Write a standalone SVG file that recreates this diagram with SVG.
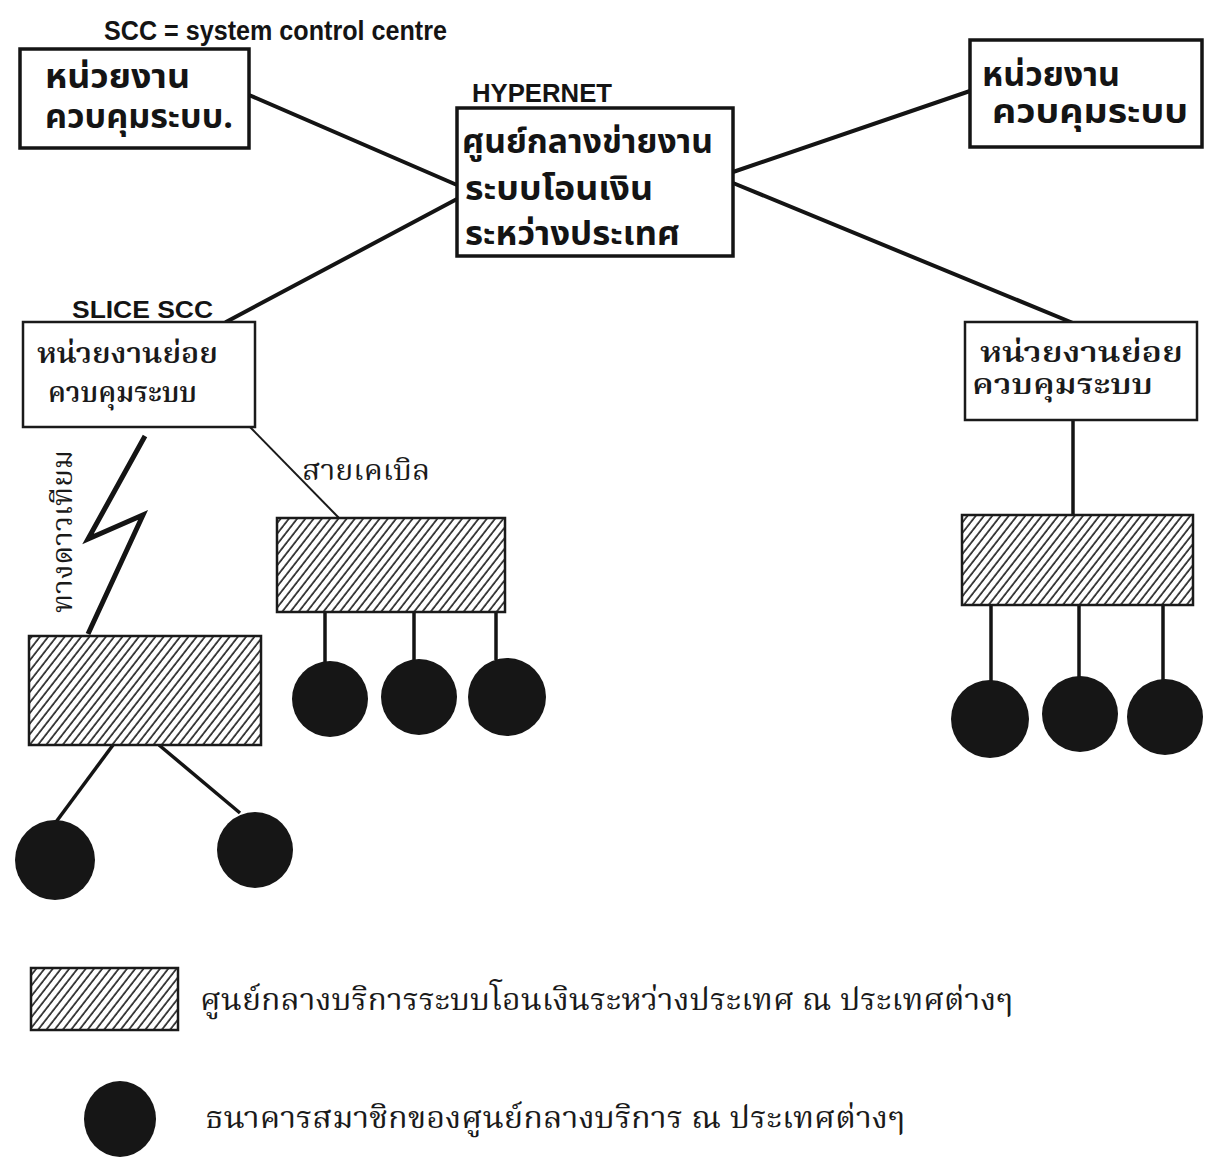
<svg xmlns="http://www.w3.org/2000/svg" width="1208" height="1157" viewBox="0 0 1208 1157">
  <style>
    .box { fill: #ffffff; stroke: #141414; stroke-width: 3.5; }
    .sub { fill: #ffffff; stroke: #1a1a1a; stroke-width: 2.5; }
    .hatch { fill: url(#diag); stroke: #1a1a1a; stroke-width: 2.5; }
    .bank { fill: #161616; }
    .link { stroke: #141414; stroke-width: 4; fill: none; stroke-linecap: round; }
    .drop { stroke: #141414; stroke-width: 3.5; fill: none; }
    .thin { stroke: #1a1a1a; stroke-width: 2; fill: none; }
    .bolt { stroke: #141414; stroke-width: 5; fill: none; stroke-linejoin: miter; }
    .en { font-family: "Liberation Sans", "DejaVu Sans", sans-serif; font-weight: bold; fill: #141414; }
    .th { font-family: "Noto Sans Thai", "Noto Sans", "DejaVu Sans", sans-serif; font-weight: bold; fill: #141414; font-size: 34px; }
    .ths { font-family: "Noto Serif Thai", "Noto Sans Thai", "DejaVu Serif", serif; fill: #1a1a1a; font-size: 28px; }
    .thb { font-weight: 600; }
    .leg { font-size: 30px; }
  </style>
  <defs>
    <pattern id="diag" patternUnits="userSpaceOnUse" width="6.5" height="10" patternTransform="rotate(38)">
      <rect width="6.5" height="10" fill="#ffffff"/>
      <line x1="1" y1="0" x2="1" y2="10" stroke="#1a1a1a" stroke-width="1.6"/>
    </pattern>
  </defs>

  <!-- connectors -->
  <g id="connectors">
    <line class="link" x1="249" y1="95" x2="457" y2="185"/>
    <line class="link" x1="457" y1="199" x2="226" y2="322"/>
    <line class="link" x1="733" y1="172" x2="970" y2="91"/>
    <line class="link" x1="733" y1="183" x2="1073" y2="323"/>
    <line class="drop" x1="1073" y1="420" x2="1073" y2="515"/>
    <line class="thin" x1="250" y1="427" x2="339" y2="518"/>
    <polyline class="bolt" points="145,436 88,539 143,515 88,634"/>
    <!-- drops from the service centres to member banks -->
    <line class="drop" x1="325" y1="612" x2="325" y2="662"/>
    <line class="drop" x1="414" y1="612" x2="414" y2="660"/>
    <line class="drop" x1="496" y1="612" x2="496" y2="660"/>
    <line class="drop" x1="991" y1="605" x2="991" y2="682"/>
    <line class="drop" x1="1079" y1="605" x2="1079" y2="677"/>
    <line class="drop" x1="1163" y1="605" x2="1163" y2="680"/>
    <line class="drop" x1="113" y1="745" x2="56" y2="822"/>
    <line class="drop" x1="159" y1="745" x2="240" y2="813"/>
  </g>

  <!-- header note -->
  <text class="en" x="104" y="40" font-size="27" textLength="343" lengthAdjust="spacingAndGlyphs">SCC = system control centre</text>

  <g id="scc-left">
    <rect class="box" x="20" y="49" width="229" height="99"/>
    <text class="th" x="45" y="88" textLength="145" lengthAdjust="spacingAndGlyphs">หน่วยงาน</text>
    <text class="th" x="45" y="128" textLength="188" lengthAdjust="spacingAndGlyphs">ควบคุมระบบ.</text>
  </g>

  <g id="hypernet">
    <text class="en" x="472" y="102" font-size="25" textLength="140" lengthAdjust="spacingAndGlyphs">HYPERNET</text>
    <rect class="box" x="457" y="108" width="276" height="148"/>
    <text class="th" x="462" y="153" textLength="251" lengthAdjust="spacingAndGlyphs">ศูนย์กลางข่ายงาน</text>
    <text class="th" x="465" y="200" textLength="188" lengthAdjust="spacingAndGlyphs">ระบบโอนเงิน</text>
    <text class="th" x="465" y="245" textLength="215" lengthAdjust="spacingAndGlyphs">ระหว่างประเทศ</text>
  </g>

  <g id="scc-right">
    <rect class="box" x="970" y="40" width="232" height="107"/>
    <text class="th" x="982" y="86" textLength="138" lengthAdjust="spacingAndGlyphs">หน่วยงาน</text>
    <text class="th" x="992" y="123" textLength="196" lengthAdjust="spacingAndGlyphs">ควบคุมระบบ</text>
  </g>

  <g id="slice-left">
    <text class="en" x="72" y="318" font-size="24" textLength="141" lengthAdjust="spacingAndGlyphs">SLICE SCC</text>
    <rect class="sub" x="23" y="322" width="232" height="105"/>
    <text class="ths thb" x="37" y="363" textLength="181" lengthAdjust="spacingAndGlyphs">หน่วยงานย่อย</text>
    <text class="ths thb" x="48" y="402" textLength="149" lengthAdjust="spacingAndGlyphs">ควบคุมระบบ</text>
  </g>

  <g id="slice-right">
    <rect class="sub" x="965" y="322" width="232" height="98"/>
    <text class="ths thb" x="980" y="362" textLength="203" lengthAdjust="spacingAndGlyphs">หน่วยงานย่อย</text>
    <text class="ths thb" x="972" y="394" textLength="181" lengthAdjust="spacingAndGlyphs">ควบคุมระบบ</text>
  </g>

  <text class="ths" x="302" y="480" textLength="128" lengthAdjust="spacingAndGlyphs">สายเคเบิล</text>
  <text class="ths" transform="translate(72 613) rotate(-90)" x="0" y="0" textLength="163" lengthAdjust="spacingAndGlyphs">ทางดาวเทียม</text>

  <!-- service centres -->
  <g id="centre-cable"><rect class="hatch" x="277" y="518" width="228" height="94"/></g>
  <g id="centre-satellite"><rect class="hatch" x="29" y="636" width="232" height="109"/></g>
  <g id="centre-right"><rect class="hatch" x="962" y="515" width="231" height="90"/></g>

  <!-- member banks -->
  <g id="bank-c1"><circle class="bank" cx="330" cy="699" r="38"/></g>
  <g id="bank-c2"><circle class="bank" cx="419" cy="697" r="38"/></g>
  <g id="bank-c3"><circle class="bank" cx="507" cy="697" r="39"/></g>
  <g id="bank-r1"><circle class="bank" cx="990" cy="719" r="39"/></g>
  <g id="bank-r2"><circle class="bank" cx="1080" cy="714" r="38"/></g>
  <g id="bank-r3"><circle class="bank" cx="1165" cy="717" r="38"/></g>
  <g id="bank-s1"><circle class="bank" cx="55" cy="860" r="40"/></g>
  <g id="bank-s2"><circle class="bank" cx="255" cy="850" r="38"/></g>

  <!-- legend -->
  <g id="legend-centre">
    <rect class="hatch" x="31" y="968" width="147" height="62"/>
    <text class="ths leg" x="200" y="1010" textLength="813" lengthAdjust="spacingAndGlyphs">ศูนย์กลางบริการระบบโอนเงินระหว่างประเทศ ณ ประเทศต่างๆ</text>
  </g>
  <g id="legend-bank">
    <ellipse class="bank" cx="120" cy="1119" rx="36" ry="38"/>
    <text class="ths leg" x="205" y="1128" textLength="700" lengthAdjust="spacingAndGlyphs">ธนาคารสมาชิกของศูนย์กลางบริการ ณ ประเทศต่างๆ</text>
  </g>
</svg>
